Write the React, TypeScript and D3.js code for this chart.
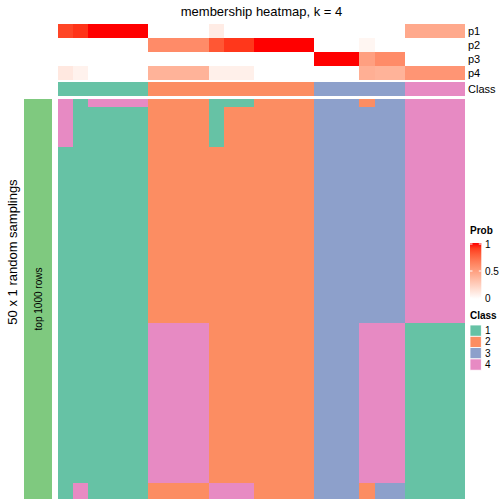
import React from "react";
import * as d3 from "d3";

const classIds = [1, 2, 3, 4];
const classColors = ["#66C2A5", "#FC8D62", "#8DA0CB", "#E78AC3"];
const columnClass = [1,1,1,1,1,1,2,2,2,2,2,2,2,2,2,2,2,3,3,3,3,3,3,4,4,4,4];
const probNames = ["p1", "p2", "p3", "p4"];
const p1 = [0.88,0.93,1,1,1,1,0,0,0,0,0.1,0,0,0,0,0,0,0,0,0,0,0,0,0.45,0.45,0.45,0.45];
const p2 = [0,0,0,0,0,0,0.6,0.6,0.6,0.6,0.82,0.92,0.92,1,1,1,1,0,0,0,0.05,0,0,0,0,0,0];
const p3 = [0,0,0,0,0,0,0,0,0,0,0,0,0,0,0,0,0,1,1,1,0.5,0.6,0.6,0,0,0,0];
const p4 = [0.12,0.07,0,0,0,0,0.4,0.4,0.4,0.4,0.08,0.08,0.08,0,0,0,0,0,0,0,0.42,0.4,0.4,0.55,0.55,0.55,0.55];
const probs = [p1, p2, p3, p4];

// sampling rows: each pattern repeated by count
const rowPatterns = [
  [4,1,4,4,4,4,2,2,2,2,1,1,1,2,2,2,2,3,3,3,2,3,3,4,4,4,4],
  [4,1,1,1,1,1,2,2,2,2,1,2,2,2,2,2,2,3,3,3,3,3,3,4,4,4,4],
  [1,1,1,1,1,1,2,2,2,2,2,2,2,2,2,2,2,3,3,3,3,3,3,4,4,4,4],
  [1,1,1,1,1,1,4,4,4,4,2,2,2,2,2,2,2,3,3,3,4,4,4,1,1,1,1],
  [1,4,1,1,1,1,2,2,2,2,4,4,4,2,2,2,2,3,3,3,2,3,3,1,1,1,1],
];
const rowCounts = [1, 5, 22, 20, 2];
const probTicks = [0, 0.5, 1];

const FONT = "'Liberation Sans', Arial, Helvetica, sans-serif";

export default function App() {
  const rows: number[][] = [];
  rowPatterns.forEach((p, i) => {
    for (let k = 0; k < rowCounts[i]; k++) rows.push(p);
  });
  const nCol = columnClass.length;
  const x = d3.scaleBand<number>().domain(d3.range(nCol)).range([58, 465]);
  const y = d3.scaleBand<number>().domain(d3.range(rows.length)).range([99, 499]);
  const annY = d3.scaleBand<number>().domain(d3.range(4)).range([24, 80]);
  const classRowY = [82, 96];
  const probColor = (v: number) => d3.interpolateLab("#FFFFFF", "#FF0000")(v);
  const classColor = d3.scaleOrdinal<number, string>().domain(classIds).range(classColors);
  const colW = (i: number) => (i + 1 < nCol ? (x(i + 1) as number) : 465) - (x(i) as number);
  const rowH = (j: number) => (j + 1 < rows.length ? (y(j + 1) as number) : 499) - (y(j) as number);

  const legY = d3.scaleLinear().domain([0, 1]).range([298, 244]);
  const gradStops = d3.range(0, 1.001, 0.1);

  return (
    <svg width={504} height={504} style={{ position: "absolute", left: 0, top: 0 }} fontFamily={FONT}>
      <rect x={0} y={0} width={504} height={504} fill="#fff" />
      <defs>
        <linearGradient id="probGrad" x1="0" y1="1" x2="0" y2="0">
          {gradStops.map((s) => (
            <stop key={s} offset={s} stopColor={probColor(s)} />
          ))}
        </linearGradient>
      </defs>
      <text x={261.5} y={16} textAnchor="middle" fontSize={13}>membership heatmap, k = 4</text>

      {/* probability annotations */}
      {probs.map((arr, r) =>
        arr.map((v, i) => (
          <rect key={`p${r}-${i}`} x={x(i)} y={annY(r)} width={colW(i)} height={annY.bandwidth()}
            fill={probColor(v)} shapeRendering="crispEdges" />
        ))
      )}
      {columnClass.map((c, i) => (
        <rect key={`c${i}`} x={x(i)} y={classRowY[0]} width={colW(i)} height={classRowY[1] - classRowY[0]}
          fill={classColor(c)} shapeRendering="crispEdges" />
      ))}
      {probNames.map((n, r) => (
        <text key={n} x={468} y={(annY(r) as number) + annY.bandwidth() / 2} dy="0.35em" fontSize={11}>{n}</text>
      ))}
      <text x={468} y={89} dy="0.35em" fontSize={11}>Class</text>

      {/* main heatmap */}
      {rows.map((row, j) =>
        row.map((c, i) => (
          <rect key={`m${j}-${i}`} x={x(i)} y={y(j)} width={colW(i)} height={rowH(j)}
            fill={classColor(c)} shapeRendering="crispEdges" />
        ))
      )}

      {/* left bar */}
      <rect x={24} y={99} width={28} height={400} fill="#7FC97F" shapeRendering="crispEdges" />
      <text transform="translate(42,299) rotate(-90)" textAnchor="middle" fontSize={10}>top 1000 rows</text>
      <text transform="translate(17,252) rotate(-90)" textAnchor="middle" fontSize={13}>50 x 1 random samplings</text>

      {/* Prob legend */}
      <text x={470} y={234} fontSize={10} fontWeight="bold">Prob</text>
      <rect x={470} y={243} width={11.3} height={56} fill="url(#probGrad)" />
      {probTicks.map((t) => (
        <g key={t}>
          <line x1={470} x2={472.5} y1={legY(t)} y2={legY(t)} stroke="#fff" strokeWidth={1} />
          <line x1={478.8} x2={481.3} y1={legY(t)} y2={legY(t)} stroke="#fff" strokeWidth={1} />
          <text x={485} y={legY(t)} dy="0.35em" fontSize={10}>{t}</text>
        </g>
      ))}

      {/* Class legend */}
      <text x={470} y={319} fontSize={10} fontWeight="bold">Class</text>
      {classIds.map((c, i) => (
        <g key={c}>
          <rect x={470} y={325 + i * 11.3} width={11.3} height={11.3} fill={classColor(c)} stroke="#fff" strokeWidth={0.8} />
          <text x={485} y={325 + i * 11.3 + 5.65} dy="0.35em" fontSize={10}>{c}</text>
        </g>
      ))}
    </svg>
  );
}
